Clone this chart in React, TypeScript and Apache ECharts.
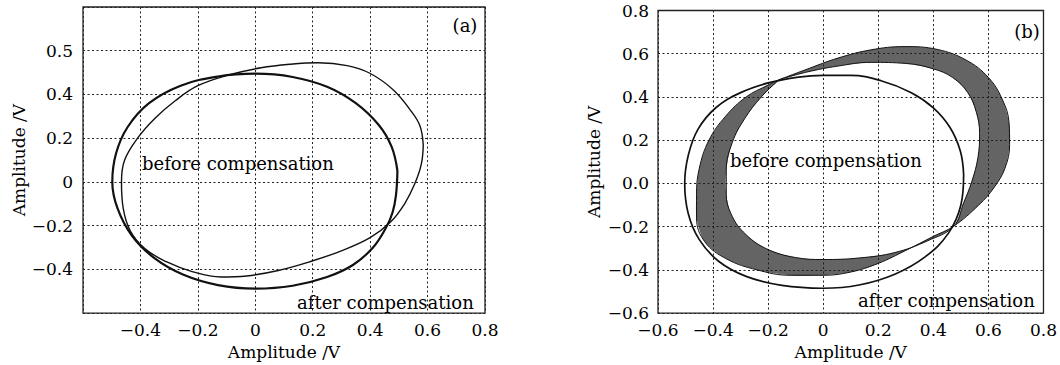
import React, { useEffect, useRef } from 'react';
import * as echarts from 'echarts';

// ---- tick values and labels ----
const axisTicks = [-0.6, -0.4, -0.2, 0, 0.2, 0.4, 0.6, 0.8];
const leftXLabels = ['', '−0.4', '−0.2', '0', '0.2', '0.4', '0.6', '0.8'];
const leftYLabels = ['', '−0.4', '−0.2', '0', '0.2', '0.4', '0.5', ''];
const rightXLabels = ['−0.6', '−0.4', '−0.2', '0', '0.2', '0.4', '0.6', '0.8'];
const rightYLabels = ['−0.6', '−0.4', '−0.2', '0.0', '0.2', '0.4', '0.6', '0.8'];

// ---- (a) before compensation (tilted loop) ----
const leftBefore: number[][] = [
  [0.585, 0.168], [0.578, 0.08], [0.555, -0.01], [0.52, -0.1], [0.47, -0.185],
  [0.4, -0.255], [0.3, -0.315], [0.19, -0.365], [0.08, -0.405], [-0.03, -0.43],
  [-0.12, -0.435], [-0.22, -0.41], [-0.31, -0.365], [-0.385, -0.305], [-0.435, -0.225],
  [-0.46, -0.12], [-0.466, 0.0], [-0.455, 0.1], [-0.41, 0.2], [-0.35, 0.29],
  [-0.28, 0.37], [-0.2, 0.44], [-0.09, 0.49], [0.02, 0.522], [0.12, 0.538],
  [0.22, 0.545], [0.32, 0.532], [0.399, 0.497], [0.48, 0.422], [0.538, 0.332],
  [0.573, 0.258], [0.585, 0.168],
];

// ---- (a) after compensation (near circle) ----
const leftAfter: number[][] = [
  [0.495, 0.05], [0.49, -0.06], [0.478, -0.14], [0.455, -0.21], [0.41, -0.3],
  [0.34, -0.38], [0.25, -0.435], [0.13, -0.475], [0.0, -0.488], [-0.13, -0.472],
  [-0.25, -0.425], [-0.35, -0.35], [-0.43, -0.245], [-0.48, -0.12], [-0.498, 0.0],
  [-0.485, 0.13], [-0.445, 0.25], [-0.37, 0.36], [-0.26, 0.44], [-0.13, 0.482],
  [0.0, 0.495], [0.13, 0.48], [0.25, 0.435], [0.35, 0.36], [0.43, 0.26],
  [0.475, 0.16], [0.495, 0.05],
];

// ---- (b) before compensation: outer and inner edges of the band ----
const rightBeforeOuter: number[][] = [
  [-0.16, 0.48], [-0.066, 0.525], [0.054, 0.58], [0.174, 0.618], [0.294, 0.633],
  [0.414, 0.62], [0.52, 0.57], [0.6, 0.49], [0.65, 0.39], [0.675, 0.28],
  [0.677, 0.18], [0.66, 0.07], [0.62, -0.02], [0.565, -0.1], [0.474, -0.198],
  [0.4, -0.245], [0.3, -0.31], [0.2, -0.37], [0.1, -0.41], [0.0, -0.425],
  [-0.12, -0.425], [-0.24, -0.4], [-0.35, -0.35], [-0.43, -0.27], [-0.46, -0.16],
  [-0.46, -0.05], [-0.45, 0.07], [-0.415, 0.2], [-0.355, 0.31], [-0.28, 0.4],
  [-0.2, 0.455], [-0.16, 0.48],
];
const rightBeforeInner: number[][] = [
  [-0.16, 0.48], [-0.06, 0.515], [0.054, 0.543], [0.174, 0.56], [0.3, 0.555],
  [0.4, 0.53], [0.47, 0.49], [0.525, 0.42], [0.556, 0.33], [0.568, 0.23],
  [0.562, 0.12], [0.54, 0.01], [0.51, -0.09], [0.474, -0.198], [0.38, -0.265],
  [0.26, -0.32], [0.13, -0.345], [0.0, -0.352], [-0.1, -0.343], [-0.21, -0.3],
  [-0.29, -0.225], [-0.335, -0.14], [-0.352, -0.05], [-0.352, 0.06], [-0.33, 0.19],
  [-0.285, 0.3], [-0.225, 0.4], [-0.16, 0.48],
];

// ---- (b) after compensation ----
const rightAfter: number[][] = [
  [0.51, 0.04], [0.498, 0.15], [0.46, 0.26], [0.4, 0.35], [0.32, 0.42],
  [0.21, 0.475], [0.1, 0.5], [0.0, 0.5], [-0.09, 0.492], [-0.2, 0.465],
  [-0.3, 0.42], [-0.39, 0.35], [-0.455, 0.25], [-0.49, 0.13], [-0.503, 0.0],
  [-0.49, -0.14], [-0.45, -0.26], [-0.38, -0.36], [-0.28, -0.43], [-0.15, -0.472],
  [0.0, -0.485], [0.13, -0.47], [0.26, -0.42], [0.37, -0.34], [0.455, -0.23],
  [0.5, -0.1], [0.51, 0.04],
];

const SERIF = '"DejaVu Serif", serif';

function lookup(labels: string[]) {
  return (v: number) => {
    const i = axisTicks.findIndex((t) => Math.abs(t - v) < 1e-6);
    return i >= 0 ? labels[i] : '';
  };
}

function makeAxis(gridIndex: number, labels: string[], nameGap: number, margin: number) {
  return {
    type: 'value',
    gridIndex,
    min: -0.6,
    max: 0.8,
    interval: 0.2,
    name: 'Amplitude /V',
    nameLocation: 'middle',
    nameGap,
    nameTextStyle: { fontFamily: SERIF, fontSize: 17, color: '#000' },
    axisLine: { show: false, onZero: false },
    axisTick: { show: false },
    axisLabel: {
      formatter: lookup(labels),
      fontFamily: SERIF,
      fontSize: 17,
      color: '#000',
      margin,
      showMinLabel: true,
      showMaxLabel: true,
    },
    splitLine: {
      show: true,
      lineStyle: { color: '#222', width: 1, type: [2, 2.5] },
    },
  };
}

export default function App() {
  const ref = useRef<HTMLDivElement>(null);
  useEffect(() => {
    document.body.style.margin = '0';
    if (!ref.current) return;
    const chart = echarts.init(ref.current, undefined, { renderer: 'svg' });
    const ring = rightBeforeOuter.concat(rightBeforeInner.slice().reverse());
    const lineBase = { type: 'line', showSymbol: false, symbol: 'none', smooth: 0.4, silent: true };
    const txt = (text: string, x: number, y: number, align = 'left') => ({
      type: 'text', x, y,
      style: { text, font: `18px ${SERIF}`, fill: '#000', align, verticalAlign: 'middle' },
    });
    chart.setOption({
      animation: false,
      backgroundColor: '#fff',
      grid: [
        { left: 83, top: 7, width: 402, height: 310, show: true, borderColor: '#222', borderWidth: 1.3, backgroundColor: 'transparent' },
        { left: 658, top: 10.5, width: 389, height: 306, show: true, borderColor: '#222', borderWidth: 1.3, backgroundColor: 'transparent' },
      ],
      xAxis: [makeAxis(0, leftXLabels, 26, 8), makeAxis(1, rightXLabels, 26, 8)],
      yAxis: [makeAxis(0, leftYLabels, 56, 10), makeAxis(1, rightYLabels, 56, 9)],
      series: [
        { ...lineBase, xAxisIndex: 0, yAxisIndex: 0, data: leftBefore, lineStyle: { color: '#111', width: 1.4 } },
        { ...lineBase, xAxisIndex: 0, yAxisIndex: 0, data: leftAfter, lineStyle: { color: '#111', width: 2.2 } },
        {
          type: 'custom',
          xAxisIndex: 1,
          yAxisIndex: 1,
          silent: true,
          data: [[0, 0]],
          renderItem: (_p: any, api: any) => ({
            type: 'polygon',
            shape: { points: ring.map((pt) => api.coord(pt)), smooth: 0.3 },
            style: { fill: '#1a1a1a', opacity: 0.68 },
          }),
        },
        { ...lineBase, xAxisIndex: 1, yAxisIndex: 1, data: rightBeforeOuter, lineStyle: { color: '#111', width: 1 } },
        { ...lineBase, xAxisIndex: 1, yAxisIndex: 1, data: rightBeforeInner, lineStyle: { color: '#111', width: 1 } },
        { ...lineBase, xAxisIndex: 1, yAxisIndex: 1, data: rightAfter, lineStyle: { color: '#111', width: 1.7 } },
      ],
      graphic: [
        txt('(a)', 465, 25, 'center'),
        txt('(b)', 1027, 31, 'center'),
        txt('before compensation', 142, 163),
        txt('after compensation', 297, 302),
        txt('before compensation', 730, 160),
        txt('after compensation', 858, 300),
      ],
    });
    return () => chart.dispose();
  }, []);
  return <div ref={ref} style={{ width: 1060, height: 365 }} />;
}
